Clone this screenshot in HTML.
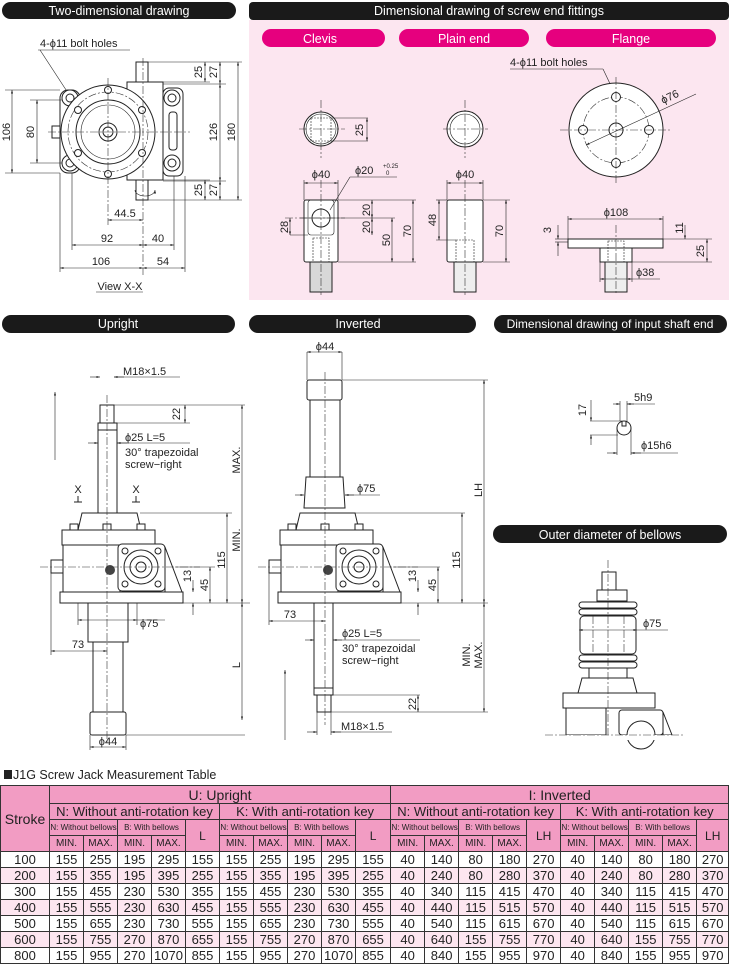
<!DOCTYPE html>
<html><head><meta charset="utf-8"><style>
body{margin:0;background:#fff;}
svg{display:block;font-family:"Liberation Sans",sans-serif;}
.l{fill:none;stroke:#222;stroke-width:1}
.t{stroke:#222;stroke-width:.6;fill:none}
.c{stroke:#333;stroke-width:.6;stroke-dasharray:8 2 2 2;fill:none}
.f{fill:#fff;stroke:#222;stroke-width:1}
.g{fill:#d8d8d8;stroke:#222;stroke-width:1}
text{font-size:11px;fill:#222}
.h{fill:#fff;font-size:12.5px;text-anchor:middle}
td,th{border:1px solid #333;padding:0;text-align:center;font-weight:normal}
</style></head><body>
<svg width="729" height="967" viewBox="0 0 729 967" xmlns="http://www.w3.org/2000/svg">
<defs>
<marker id="a" viewBox="0 0 10 10" refX="10" refY="5" markerWidth="6" markerHeight="6" orient="auto-start-reverse"><path d="M0,2 L10,5 L0,8z" fill="#222"/></marker>
<g id="gb">
 <path class="f" d="M78,530 L82,513 L137,513 L141,530Z"/>
 <rect class="f" x="62" y="530" width="93" height="15"/>
 <rect class="f" x="63" y="545" width="57" height="48"/>
 <rect class="f" x="51" y="560" width="12" height="13"/>
 <path class="f" d="M165,547 L182,592 L165,592Z"/>
 <rect class="f" x="118" y="544" width="47" height="47" rx="4"/>
 <circle class="f" cx="141" cy="567" r="17"/><circle class="f" cx="141" cy="567" r="11"/><circle class="f" cx="141" cy="567" r="5"/>
 <circle class="f" cx="125" cy="551" r="3"/><circle class="f" cx="158" cy="551" r="3"/><circle class="f" cx="125" cy="584" r="3"/><circle class="f" cx="158" cy="584" r="3"/>
 <circle cx="110" cy="570" r="5" fill="#444"/>
 <rect class="f" x="60" y="592" width="123" height="11"/>
 <rect class="f" x="70" y="524" width="8" height="6"/><rect class="f" x="103" y="524" width="8" height="6"/><rect class="f" x="137" y="524" width="8" height="6"/>
 <line class="c" x1="40" y1="567" x2="200" y2="567"/>
</g>
</defs>

<!-- headers -->
<rect x="2" y="2" width="234" height="17" rx="8.5" fill="#1a1a1a"/><text class="h" x="119" y="15">Two-dimensional drawing</text>
<rect x="249" y="20" width="480" height="280" fill="#fce6f0"/>
<rect x="249" y="2" width="480" height="18" rx="4" fill="#1a1a1a"/><text class="h" x="489" y="15">Dimensional drawing of screw end fittings</text>
<rect x="262" y="29" width="123" height="18" rx="9" fill="#e6007e"/><text class="h" x="320" y="43">Clevis</text>
<rect x="399" y="29" width="130" height="18" rx="9" fill="#e6007e"/><text class="h" x="464" y="43">Plain end</text>
<rect x="546" y="29" width="170" height="18" rx="9" fill="#e6007e"/><text class="h" x="631" y="43">Flange</text>
<rect x="2" y="315" width="233" height="18" rx="9" fill="#1a1a1a"/><text class="h" x="118" y="328">Upright</text>
<rect x="249" y="315" width="227" height="18" rx="9" fill="#1a1a1a"/><text class="h" x="358" y="328">Inverted</text>
<rect x="494" y="315" width="233" height="18" rx="9" fill="#1a1a1a"/><text class="h" x="610" y="328" style="font-size:12px">Dimensional drawing of input shaft end</text>
<rect x="493" y="525" width="234" height="18" rx="9" fill="#1a1a1a"/><text class="h" x="610" y="539">Outer diameter of bellows</text>

<!-- Two-dimensional drawing -->
<text x="40" y="47">4-ϕ11 bolt holes</text><line class="t" x1="38" y1="50" x2="130" y2="50"/><line class="t" x1="40" y1="50" x2="70" y2="96"/>
<rect class="f" x="136" y="62" width="12" height="22"/><rect class="f" x="136" y="180" width="12" height="20"/>
<rect class="f" x="127" y="82" width="36" height="98"/>
<rect class="f" x="163" y="88" width="20" height="88" rx="6"/><rect class="f" x="169" y="112" width="8" height="38" rx="3"/>
<circle class="f" cx="172" cy="98" r="8"/><circle class="f" cx="172" cy="98" r="4"/><circle class="f" cx="172" cy="163" r="8"/><circle class="f" cx="172" cy="163" r="4"/>
<rect class="f" x="60" y="90" width="20" height="83" rx="8"/>
<circle class="f" cx="70" cy="98" r="8"/><circle class="f" cx="70" cy="98" r="4"/><circle class="f" cx="70" cy="163" r="8"/><circle class="f" cx="70" cy="163" r="4"/>
<circle class="f" cx="108" cy="132" r="47"/><circle class="c" cx="108" cy="132" r="40"/><circle class="f" cx="108" cy="132" r="32"/><circle class="t" cx="108" cy="132" r="27"/>
<circle class="f" cx="108" cy="132" r="9"/><circle class="f" cx="108" cy="132" r="5"/>
<circle class="f" cx="108" cy="90" r="3.5"/><circle class="f" cx="108" cy="174" r="3.5"/><circle class="f" cx="78" cy="110" r="3.5"/><circle class="f" cx="142" cy="110" r="3.5"/><circle class="f" cx="78" cy="153" r="3.5"/><circle class="f" cx="142" cy="153" r="3.5"/>
<rect class="f" x="52" y="126" width="8" height="12"/>
<line class="c" x1="48" y1="132" x2="190" y2="132"/><line class="c" x1="108" y1="78" x2="108" y2="225"/><line class="c" x1="143" y1="58" x2="143" y2="275"/>
<path class="t" d="M135,190 a10,6 0 1 0 20,0" marker-end="url(#a)"/>
<g class="t">
<line x1="5" y1="90" x2="60" y2="90"/><line x1="5" y1="173" x2="60" y2="173"/><line x1="12" y1="90" x2="12" y2="173" marker-start="url(#a)" marker-end="url(#a)"/>
<line x1="30" y1="100" x2="62" y2="100"/><line x1="30" y1="163" x2="62" y2="163"/><line x1="37" y1="100" x2="37" y2="163" marker-start="url(#a)" marker-end="url(#a)"/>
<line x1="148" y1="62" x2="242" y2="62"/><line x1="163" y1="84" x2="226" y2="84"/><line x1="163" y1="181" x2="226" y2="181"/><line x1="148" y1="200" x2="242" y2="200"/>
<line x1="148" y1="82" x2="210" y2="82"/><line x1="148" y1="180" x2="210" y2="180"/>
<line x1="205" y1="62" x2="205" y2="82" marker-start="url(#a)" marker-end="url(#a)"/><line x1="220" y1="62" x2="220" y2="84" marker-start="url(#a)" marker-end="url(#a)"/>
<line x1="205" y1="180" x2="205" y2="200" marker-start="url(#a)" marker-end="url(#a)"/><line x1="220" y1="181" x2="220" y2="200" marker-start="url(#a)" marker-end="url(#a)"/>
<line x1="220" y1="84" x2="220" y2="181" marker-start="url(#a)" marker-end="url(#a)"/><line x1="238" y1="62" x2="238" y2="200" marker-start="url(#a)" marker-end="url(#a)"/>
<line x1="72" y1="173" x2="72" y2="250"/><line x1="60" y1="173" x2="60" y2="272"/><line x1="174" y1="176" x2="174" y2="250"/><line x1="185" y1="176" x2="185" y2="272"/>
<line x1="108" y1="220" x2="143" y2="220" marker-start="url(#a)" marker-end="url(#a)"/>
<line x1="72" y1="245" x2="143" y2="245" marker-start="url(#a)" marker-end="url(#a)"/><line x1="143" y1="245" x2="174" y2="245" marker-start="url(#a)" marker-end="url(#a)"/>
<line x1="60" y1="268" x2="143" y2="268" marker-start="url(#a)" marker-end="url(#a)"/><line x1="143" y1="268" x2="185" y2="268" marker-start="url(#a)" marker-end="url(#a)"/>
<line x1="96" y1="292" x2="143" y2="292"/>
</g>
<text x="10" y="132" transform="rotate(-90 10 132)" text-anchor="middle">106</text>
<text x="34" y="132" transform="rotate(-90 34 132)" text-anchor="middle">80</text>
<text x="202" y="72" transform="rotate(-90 202 72)" text-anchor="middle">25</text><text x="217" y="72" transform="rotate(-90 217 72)" text-anchor="middle">27</text>
<text x="202" y="190" transform="rotate(-90 202 190)" text-anchor="middle">25</text><text x="217" y="190" transform="rotate(-90 217 190)" text-anchor="middle">27</text>
<text x="217" y="132" transform="rotate(-90 217 132)" text-anchor="middle">126</text><text x="235" y="132" transform="rotate(-90 235 132)" text-anchor="middle">180</text>
<text x="125" y="217" text-anchor="middle">44.5</text><text x="107" y="242" text-anchor="middle">92</text><text x="158" y="242" text-anchor="middle">40</text>
<text x="101" y="265" text-anchor="middle">106</text><text x="163" y="265" text-anchor="middle">54</text><text x="120" y="290" text-anchor="middle">View X-X</text>

<!-- Clevis -->
<circle class="f" cx="321" cy="129" r="17"/><circle class="t" cx="321" cy="129" r="15"/><rect class="t" x="311" y="118" width="20" height="23" stroke-dasharray="2 1"/>
<line class="c" x1="299" y1="129" x2="345" y2="129"/><line class="c" x1="321" y1="100" x2="321" y2="158"/>
<g class="t"><line x1="331" y1="118" x2="368" y2="118"/><line x1="331" y1="141" x2="368" y2="141"/><line x1="367" y1="118" x2="367" y2="141" marker-start="url(#a)" marker-end="url(#a)"/></g>
<text x="363" y="130" transform="rotate(-90 363 130)" text-anchor="middle">25</text>
<rect class="g" x="310" y="262" width="22" height="30" fill="#eee"/>
<rect class="f" x="304" y="200" width="34" height="62" rx="2"/><rect class="t" x="308" y="200" width="26" height="35" rx="3"/>
<circle class="f" cx="321" cy="218" r="9"/><rect class="t" x="313" y="238" width="16" height="24" stroke-dasharray="2 1"/>
<line class="c" x1="321" y1="180" x2="321" y2="295"/><line class="c" x1="285" y1="218" x2="345" y2="218"/>
<g class="t"><line x1="304" y1="180" x2="304" y2="200"/><line x1="338" y1="180" x2="338" y2="200"/><line x1="304" y1="183" x2="338" y2="183" marker-start="url(#a)" marker-end="url(#a)"/>
<line x1="330" y1="210" x2="350" y2="177"/><line x1="350" y1="177" x2="397" y2="177"/>
<line x1="338" y1="200" x2="416" y2="200"/><line x1="338" y1="262" x2="416" y2="262"/><line x1="300" y1="218" x2="395" y2="218"/><line x1="290" y1="235" x2="308" y2="235"/>
<line x1="372" y1="200" x2="372" y2="218" marker-start="url(#a)" marker-end="url(#a)"/><line x1="372" y1="218" x2="372" y2="235" marker-start="url(#a)" marker-end="url(#a)"/>
<line x1="290" y1="218" x2="290" y2="235" marker-start="url(#a)" marker-end="url(#a)"/>
<line x1="392" y1="218" x2="392" y2="262" marker-start="url(#a)" marker-end="url(#a)"/><line x1="413" y1="200" x2="413" y2="262" marker-start="url(#a)" marker-end="url(#a)"/></g>
<text x="321" y="178" text-anchor="middle">ϕ40</text><text x="355" y="174">ϕ20</text><text x="383" y="168" style="font-size:6px">+0.25</text><text x="386" y="175" style="font-size:6px">0</text>
<text x="370" y="210" transform="rotate(-90 370 210)" text-anchor="middle">20</text><text x="370" y="227" transform="rotate(-90 370 227)" text-anchor="middle">20</text>
<text x="288" y="227" transform="rotate(-90 288 227)" text-anchor="middle">28</text><text x="390" y="240" transform="rotate(-90 390 240)" text-anchor="middle">50</text><text x="411" y="231" transform="rotate(-90 411 231)" text-anchor="middle">70</text>

<!-- Plain end -->
<circle class="f" cx="465" cy="129" r="18"/><circle class="t" cx="465" cy="129" r="15"/>
<line class="c" x1="443" y1="129" x2="488" y2="129"/><line class="c" x1="465" y1="100" x2="465" y2="158"/>
<rect x="454" y="262" width="22" height="30" fill="#eee" stroke="#222"/>
<rect class="f" x="447" y="200" width="36" height="62" rx="2"/><rect class="t" x="456" y="240" width="18" height="22" stroke-dasharray="2 1"/>
<line class="c" x1="465" y1="180" x2="465" y2="295"/>
<g class="t"><line x1="447" y1="180" x2="447" y2="200"/><line x1="483" y1="180" x2="483" y2="200"/><line x1="447" y1="183" x2="483" y2="183" marker-start="url(#a)" marker-end="url(#a)"/>
<line x1="436" y1="200" x2="447" y2="200"/><line x1="436" y1="240" x2="456" y2="240"/><line x1="439" y1="200" x2="439" y2="240" marker-start="url(#a)" marker-end="url(#a)"/>
<line x1="483" y1="200" x2="510" y2="200"/><line x1="483" y1="262" x2="510" y2="262"/><line x1="506" y1="200" x2="506" y2="262" marker-start="url(#a)" marker-end="url(#a)"/></g>
<text x="465" y="178" text-anchor="middle">ϕ40</text><text x="436" y="220" transform="rotate(-90 436 220)" text-anchor="middle">48</text><text x="503" y="231" transform="rotate(-90 503 231)" text-anchor="middle">70</text>

<!-- Flange -->
<text x="510" y="66">4-ϕ11 bolt holes</text><line class="t" x1="510" y1="69" x2="603" y2="69"/><line class="t" x1="603" y1="69" x2="613" y2="90" marker-end="url(#a)"/>
<circle class="f" cx="616" cy="130" r="47"/><circle class="c" cx="616" cy="130" r="33"/><circle class="f" cx="616" cy="130" r="7"/>
<circle class="f" cx="616" cy="97" r="4.5"/><circle class="f" cx="616" cy="163" r="4.5"/><circle class="f" cx="583" cy="130" r="4.5"/><circle class="f" cx="649" cy="130" r="4.5"/>
<line class="c" x1="560" y1="130" x2="672" y2="130"/><line class="c" x1="616" y1="77" x2="616" y2="183"/>
<line class="t" x1="586" y1="145" x2="696" y2="94" marker-start="url(#a)"/><text x="663" y="104" transform="rotate(-25 663 104)">ϕ76</text>
<rect x="605" y="262" width="22" height="30" fill="#eee" stroke="#222"/>
<rect class="f" x="568" y="239" width="95" height="9"/><rect class="f" x="600" y="248" width="32" height="14"/><rect class="t" x="608" y="241" width="16" height="21" stroke-dasharray="2 1"/>
<line class="c" x1="616" y1="225" x2="616" y2="295"/>
<g class="t"><line x1="568" y1="216" x2="568" y2="239"/><line x1="663" y1="216" x2="663" y2="239"/><line x1="568" y1="219" x2="663" y2="219" marker-start="url(#a)" marker-end="url(#a)"/>
<line x1="555" y1="239" x2="568" y2="239"/><line x1="555" y1="242" x2="568" y2="242"/><line x1="558" y1="225" x2="558" y2="239" marker-end="url(#a)"/><line x1="558" y1="256" x2="558" y2="242" marker-end="url(#a)"/>
<line x1="663" y1="239" x2="712" y2="239"/><line x1="632" y1="262" x2="712" y2="262"/><line x1="685" y1="225" x2="685" y2="239" marker-end="url(#a)"/><line x1="707" y1="239" x2="707" y2="262" marker-start="url(#a)" marker-end="url(#a)"/>
<line x1="600" y1="262" x2="600" y2="282"/><line x1="632" y1="262" x2="632" y2="282"/><line x1="600" y1="279" x2="632" y2="279" marker-start="url(#a)" marker-end="url(#a)"/><line x1="632" y1="279" x2="660" y2="279"/></g>
<text x="616" y="216" text-anchor="middle">ϕ108</text><text x="551" y="230" transform="rotate(-90 551 230)" text-anchor="middle">3</text>
<text x="683" y="228" transform="rotate(-90 683 228)" text-anchor="middle">11</text><text x="704" y="251" transform="rotate(-90 704 251)" text-anchor="middle">25</text><text x="636" y="276">ϕ38</text>

<!-- Upright -->
<rect class="f" x="100" y="405" width="14" height="18"/><rect class="f" x="98" y="423" width="19" height="90"/><rect class="f" x="98" y="423" width="19" height="7"/>
<use href="#gb"/>
<rect class="f" x="88" y="603" width="40" height="39"/><rect class="f" x="93" y="642" width="30" height="70"/><rect class="f" x="90" y="712" width="36" height="23" rx="2"/>
<line class="c" x1="107" y1="395" x2="107" y2="745"/>
<line class="t" x1="55" y1="460" x2="55" y2="392" marker-end="url(#a)"/>
<text x="78" y="493" text-anchor="middle">X</text><text x="136" y="493" text-anchor="middle">X</text><path d="M74,502h8M78,496v6M132,502h8M136,496v6" class="l"/>
<g class="t"><line x1="90" y1="377" x2="100" y2="377" marker-end="url(#a)"/><line x1="124" y1="377" x2="114" y2="377" marker-end="url(#a)"/><line x1="114" y1="377" x2="180" y2="377"/>
<line x1="114" y1="405" x2="245" y2="405"/><line x1="117" y1="423" x2="190" y2="423"/><line x1="185" y1="405" x2="185" y2="423" marker-start="url(#a)" marker-end="url(#a)"/>
<line x1="88" y1="443" x2="98" y2="443" marker-end="url(#a)"/><line x1="127" y1="443" x2="117" y2="443" marker-end="url(#a)"/><line x1="117" y1="443" x2="190" y2="443"/>
<line x1="140" y1="513" x2="232" y2="513"/><line x1="183" y1="603" x2="250" y2="603"/><line x1="175" y1="567" x2="215" y2="567"/>
<line x1="227" y1="513" x2="227" y2="603" marker-start="url(#a)" marker-end="url(#a)"/><line x1="242" y1="405" x2="242" y2="603" marker-start="url(#a)" marker-end="url(#a)"/>
<line x1="210" y1="567" x2="210" y2="603" marker-start="url(#a)" marker-end="url(#a)"/><line x1="193" y1="580" x2="193" y2="592" marker-end="url(#a)"/><line x1="193" y1="615" x2="193" y2="603" marker-end="url(#a)"/>
<line x1="126" y1="735" x2="245" y2="735"/><line x1="242" y1="603" x2="242" y2="720" marker-start="url(#a)" marker-end="url(#a)"/>
<line x1="78" y1="603" x2="78" y2="625"/><line x1="137" y1="603" x2="137" y2="625"/><line x1="78" y1="620" x2="137" y2="620" marker-start="url(#a)" marker-end="url(#a)"/><line x1="137" y1="620" x2="165" y2="620"/>
<line x1="51" y1="567" x2="51" y2="655"/><line x1="51" y1="651" x2="107" y2="651" marker-start="url(#a)" marker-end="url(#a)"/>
<line x1="90" y1="735" x2="90" y2="750"/><line x1="126" y1="735" x2="126" y2="750"/><line x1="90" y1="747" x2="126" y2="747" marker-start="url(#a)" marker-end="url(#a)"/></g>
<text x="123" y="375">M18×1.5</text><text x="180" y="414" transform="rotate(-90 180 414)" text-anchor="middle">22</text>
<text x="125" y="441">ϕ25  L=5</text><text x="125" y="456">30° trapezoidal</text><text x="125" y="468">screw−right</text>
<text x="240" y="460" transform="rotate(-90 240 460)" text-anchor="middle">MAX.</text><text x="240" y="540" transform="rotate(-90 240 540)" text-anchor="middle">MIN.</text>
<text x="225" y="560" transform="rotate(-90 225 560)" text-anchor="middle">115</text><text x="208" y="585" transform="rotate(-90 208 585)" text-anchor="middle">45</text><text x="191" y="576" transform="rotate(-90 191 576)" text-anchor="middle">13</text>
<text x="140" y="627">ϕ75</text><text x="78" y="648" text-anchor="middle">73</text><text x="240" y="665" transform="rotate(-90 240 665)" text-anchor="middle">L</text><text x="108" y="745" text-anchor="middle">ϕ44</text>

<!-- Inverted -->
<rect class="f" x="307" y="380" width="35" height="20" rx="2"/><rect class="f" x="310" y="400" width="30" height="77"/><path class="f" d="M304,508 L306,477 L343,477 L345,508Z"/>
<use href="#gb" transform="translate(218,0)"/>
<rect class="f" x="314" y="603" width="19" height="92"/><rect class="f" x="314" y="688" width="19" height="7"/><rect class="f" x="317" y="695" width="14" height="17"/>
<line class="c" x1="325" y1="372" x2="325" y2="725"/>
<line class="t" x1="285" y1="740" x2="285" y2="670" marker-end="url(#a)"/>
<g class="t"><line x1="307" y1="352" x2="342" y2="352" marker-start="url(#a)" marker-end="url(#a)"/><line x1="307" y1="352" x2="307" y2="380"/><line x1="342" y1="352" x2="342" y2="380"/>
<line x1="342" y1="380" x2="488" y2="380"/><line x1="484" y1="380" x2="484" y2="603" marker-start="url(#a)" marker-end="url(#a)"/><line x1="401" y1="603" x2="488" y2="603"/>
<line x1="295" y1="495" x2="304" y2="495" marker-end="url(#a)"/><line x1="354" y1="495" x2="345" y2="495" marker-end="url(#a)"/><line x1="345" y1="495" x2="380" y2="495"/>
<line x1="355" y1="513" x2="465" y2="513"/><line x1="462" y1="513" x2="462" y2="603" marker-start="url(#a)" marker-end="url(#a)"/>
<line x1="393" y1="567" x2="440" y2="567"/><line x1="438" y1="567" x2="438" y2="603" marker-start="url(#a)" marker-end="url(#a)"/>
<line x1="418" y1="580" x2="418" y2="592" marker-end="url(#a)"/><line x1="418" y1="615" x2="418" y2="603" marker-end="url(#a)"/>
<line x1="269" y1="567" x2="269" y2="625"/><line x1="269" y1="621" x2="325" y2="621" marker-start="url(#a)" marker-end="url(#a)"/>
<line x1="305" y1="640" x2="314" y2="640" marker-end="url(#a)"/><line x1="342" y1="640" x2="333" y2="640" marker-end="url(#a)"/><line x1="333" y1="640" x2="420" y2="640"/>
<line x1="333" y1="695" x2="420" y2="695"/><line x1="331" y1="712" x2="488" y2="712"/><line x1="418" y1="695" x2="418" y2="712" marker-start="url(#a)" marker-end="url(#a)"/>
<line x1="484" y1="603" x2="484" y2="712" marker-start="url(#a)" marker-end="url(#a)"/>
<line x1="317" y1="712" x2="317" y2="735"/><line x1="331" y1="712" x2="331" y2="735"/><line x1="307" y1="732" x2="317" y2="732" marker-end="url(#a)"/><line x1="341" y1="732" x2="331" y2="732" marker-end="url(#a)"/><line x1="331" y1="732" x2="392" y2="732"/></g>
<text x="325" y="350" text-anchor="middle">ϕ44</text><text x="357" y="492">ϕ75</text><text x="482" y="490" transform="rotate(-90 482 490)" text-anchor="middle">LH</text>
<text x="460" y="560" transform="rotate(-90 460 560)" text-anchor="middle">115</text><text x="436" y="585" transform="rotate(-90 436 585)" text-anchor="middle">45</text><text x="416" y="576" transform="rotate(-90 416 576)" text-anchor="middle">13</text>
<text x="290" y="618" text-anchor="middle">73</text><text x="342" y="637">ϕ25  L=5</text><text x="342" y="652">30° trapezoidal</text><text x="342" y="664">screw−right</text>
<text x="470" y="655" transform="rotate(-90 470 655)" text-anchor="middle">MIN.</text><text x="482" y="655" transform="rotate(-90 482 655)" text-anchor="middle">MAX.</text>
<text x="416" y="704" transform="rotate(-90 416 704)" text-anchor="middle">22</text><text x="341" y="730">M18×1.5</text>

<!-- Input shaft -->
<circle class="f" cx="624" cy="428" r="7"/><path class="l" d="M622,421 v5 h4 v-5"/>
<g class="t"><line x1="620" y1="401" x2="620" y2="421"/><line x1="627" y1="401" x2="627" y2="421"/><line x1="613" y1="404" x2="620" y2="404" marker-end="url(#a)"/><line x1="634" y1="404" x2="627" y2="404" marker-end="url(#a)"/><line x1="627" y1="404" x2="655" y2="404"/>
<line x1="590" y1="421" x2="622" y2="421"/><line x1="590" y1="435" x2="618" y2="435"/><line x1="591" y1="400" x2="591" y2="421" marker-end="url(#a)"/><line x1="591" y1="445" x2="591" y2="435" marker-end="url(#a)"/>
<line x1="617" y1="428" x2="617" y2="455"/><line x1="631" y1="428" x2="631" y2="455"/><line x1="607" y1="453" x2="617" y2="453" marker-end="url(#a)"/><line x1="641" y1="453" x2="631" y2="453" marker-end="url(#a)"/><line x1="631" y1="453" x2="678" y2="453"/></g>
<text x="634" y="401">5h9</text><text x="586" y="410" transform="rotate(-90 586 410)" text-anchor="middle">17</text><text x="641" y="449">ϕ15h6</text>

<!-- Bellows -->
<rect class="f" x="602" y="572" width="14" height="18"/><rect class="f" x="597" y="590" width="30" height="11"/>
<rect class="f" x="579" y="602" width="58" height="6" rx="3"/><rect class="f" x="579" y="609" width="58" height="6" rx="3"/>
<rect class="f" x="580" y="616" width="56" height="38" rx="4"/><line class="c" x1="593" y1="616" x2="593" y2="654"/><line class="c" x1="624" y1="616" x2="624" y2="654"/>
<rect class="f" x="579" y="655" width="58" height="6" rx="3"/><rect class="f" x="579" y="662" width="58" height="6" rx="3"/>
<rect class="f" x="589" y="668" width="38" height="10"/>
<path class="f" d="M578,693 L582,678 L633,678 L637,693Z"/><rect class="f" x="563" y="693" width="92" height="15"/>
<rect class="f" x="566" y="708" width="40" height="27"/><rect class="f" x="619" y="710" width="44" height="25" rx="3"/><circle class="f" cx="641" cy="735" r="14"/><path class="f" d="M663,712 L672,735 L663,735Z"/>
<rect x="540" y="735" width="189" height="5" fill="#fff"/>
<line class="c" x1="608" y1="560" x2="608" y2="735"/><line class="c" x1="545" y1="735" x2="685" y2="735"/>
<line class="t" x1="579" y1="630" x2="637" y2="630" marker-start="url(#a)" marker-end="url(#a)"/><line class="t" x1="637" y1="630" x2="668" y2="630"/><text x="643" y="627">ϕ75</text>

<!-- table title -->
<rect x="4" y="770" width="8" height="9" fill="#222"/><text x="13" y="779" style="font-size:12.5px">J1G Screw Jack Measurement Table</text>
</svg>
<table style="position:absolute;left:0;top:785px;width:729px;border-collapse:collapse;font-family:'Liberation Sans',sans-serif;font-size:13px;color:#222;table-layout:fixed;border:1.5px solid #333">
<colgroup><col style="width:49px"><col span="4" style="width:34px"><col style="width:34px"><col span="4" style="width:34px"><col style="width:35px"><col span="4" style="width:34px"><col style="width:34px"><col span="4" style="width:34px"><col style="width:32px"></colgroup>
<tr style="background:#f29cc3;height:18px;font-size:14px"><th rowspan="4" style="font-size:14px">Stroke</th><th colspan="10">U: Upright</th><th colspan="10">I: Inverted</th></tr>
<tr style="background:#f29cc3;height:16px"><th colspan="5">N: Without anti-rotation key</th><th colspan="5">K: With anti-rotation key</th><th colspan="5">N: Without anti-rotation key</th><th colspan="5">K: With anti-rotation key</th></tr>
<tr style="background:#f29cc3;height:16px;font-size:8px"><th colspan="2">N: Without bellows</th><th colspan="2">B: With bellows</th><th rowspan="2" style="font-size:12px">L</th><th colspan="2">N: Without bellows</th><th colspan="2">B: With bellows</th><th rowspan="2" style="font-size:12px">L</th><th colspan="2">N: Without bellows</th><th colspan="2">B: With bellows</th><th rowspan="2" style="font-size:12px">LH</th><th colspan="2">N: Without bellows</th><th colspan="2">B: With bellows</th><th rowspan="2" style="font-size:12px">LH</th></tr>
<tr style="background:#f29cc3;height:16px;font-size:10px"><th>MIN.</th><th>MAX.</th><th>MIN.</th><th>MAX.</th><th>MIN.</th><th>MAX.</th><th>MIN.</th><th>MAX.</th><th>MIN.</th><th>MAX.</th><th>MIN.</th><th>MAX.</th><th>MIN.</th><th>MAX.</th><th>MIN.</th><th>MAX.</th></tr>
<tr style="height:16px"><td>100</td><td>155</td><td>255</td><td>195</td><td>295</td><td>155</td><td>155</td><td>255</td><td>195</td><td>295</td><td>155</td><td>40</td><td>140</td><td>80</td><td>180</td><td>270</td><td>40</td><td>140</td><td>80</td><td>180</td><td>270</td></tr>
<tr style="height:16px;background:#fde6f0"><td>200</td><td>155</td><td>355</td><td>195</td><td>395</td><td>255</td><td>155</td><td>355</td><td>195</td><td>395</td><td>255</td><td>40</td><td>240</td><td>80</td><td>280</td><td>370</td><td>40</td><td>240</td><td>80</td><td>280</td><td>370</td></tr>
<tr style="height:16px"><td>300</td><td>155</td><td>455</td><td>230</td><td>530</td><td>355</td><td>155</td><td>455</td><td>230</td><td>530</td><td>355</td><td>40</td><td>340</td><td>115</td><td>415</td><td>470</td><td>40</td><td>340</td><td>115</td><td>415</td><td>470</td></tr>
<tr style="height:16px;background:#fde6f0"><td>400</td><td>155</td><td>555</td><td>230</td><td>630</td><td>455</td><td>155</td><td>555</td><td>230</td><td>630</td><td>455</td><td>40</td><td>440</td><td>115</td><td>515</td><td>570</td><td>40</td><td>440</td><td>115</td><td>515</td><td>570</td></tr>
<tr style="height:16px"><td>500</td><td>155</td><td>655</td><td>230</td><td>730</td><td>555</td><td>155</td><td>655</td><td>230</td><td>730</td><td>555</td><td>40</td><td>540</td><td>115</td><td>615</td><td>670</td><td>40</td><td>540</td><td>115</td><td>615</td><td>670</td></tr>
<tr style="height:16px;background:#fde6f0"><td>600</td><td>155</td><td>755</td><td>270</td><td>870</td><td>655</td><td>155</td><td>755</td><td>270</td><td>870</td><td>655</td><td>40</td><td>640</td><td>155</td><td>755</td><td>770</td><td>40</td><td>640</td><td>155</td><td>755</td><td>770</td></tr>
<tr style="height:16px"><td>800</td><td>155</td><td>955</td><td>270</td><td>1070</td><td>855</td><td>155</td><td>955</td><td>270</td><td>1070</td><td>855</td><td>40</td><td>840</td><td>155</td><td>955</td><td>970</td><td>40</td><td>840</td><td>155</td><td>955</td><td>970</td></tr>
</table>
</body></html>
